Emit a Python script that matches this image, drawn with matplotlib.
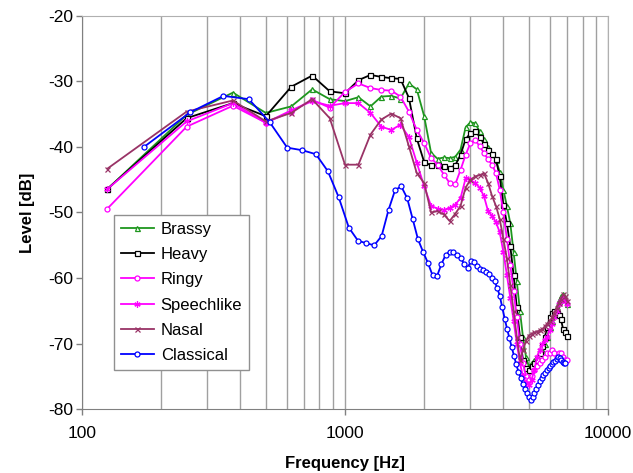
import numpy as np
import matplotlib.pyplot as plt

plt.rcParams['font.family'] = ['Liberation Sans', 'DejaVu Sans']
plt.rcParams['axes.unicode_minus'] = False

# band centre frequencies (125 Hz steps) for the voice-quality spectra
freq = [125, 250, 375, 500, 625, 750, 875, 1000, 1125, 1250, 1375, 1500,
        1625, 1750, 1875, 2000, 2125, 2250, 2375, 2500, 2625, 2750, 2875,
        3000, 3125, 3250, 3375, 3500, 3625, 3750, 3875, 4000, 4125, 4250,
        4375, 4500, 4625, 4750, 4875, 5000, 5125, 5250, 5375, 5500, 5625,
        5750, 5875, 6000, 6125, 6250, 6375, 6500, 6625, 6750, 6875, 7000]

brassy = [-46.4, -35.1, -31.7, -34.8, -33.8, -31.2, -32.7, -33.0, -32.4, -33.8,
          -32.3, -32.2, -32.6, -30.3, -31.2, -35.3, -40.9, -41.8, -41.6, -41.7,
          -41.5, -40.4, -37.0, -36.2, -36.4, -37.6, -38.8, -40.0, -41.0, -42.0,
          -43.8, -46.5, -49.0, -51.6, -56.0, -60.5, -65.0, -69.0, -72.0, -73.5,
          -73.0, -72.5, -72.0, -71.5, -71.0, -70.0, -69.0, -67.5, -66.5, -65.5,
          -64.5, -63.5, -62.8, -62.5, -63.0, -64.0]

heavy = [-46.4, -35.6, -33.3, -35.3, -30.8, -29.1, -31.5, -31.8, -29.8, -29.0,
         -29.3, -29.5, -29.6, -32.5, -38.7, -42.3, -42.8, -42.8, -42.9, -43.2,
         -42.8, -41.2, -38.8, -37.9, -37.6, -38.4, -39.5, -40.4, -41.0, -41.9,
         -44.5, -48.8, -51.6, -55.1, -59.5, -64.5, -69.0, -72.5, -73.8, -74.0,
         -73.5, -73.0, -72.5, -71.5, -70.4, -69.0, -67.5, -66.0, -65.3, -65.0,
         -65.3, -65.6, -66.3, -67.8, -68.2, -68.9]

ringy = [-49.4, -36.9, -33.7, -36.3, -34.6, -32.8, -34.0, -31.6, -30.3, -31.0,
         -31.3, -31.4, -32.3, -34.6, -37.4, -39.4, -41.7, -42.7, -44.2, -45.5,
         -45.7, -43.5, -41.2, -39.4, -38.9, -39.9, -40.9, -41.9, -42.7, -44.0,
         -46.5, -50.0, -54.0, -58.0, -62.0, -66.0, -70.0, -73.0, -75.0, -75.5,
         -75.0, -74.0, -73.5, -73.0, -72.5, -72.0, -71.5, -71.5, -71.0, -71.5,
         -72.0, -71.5, -71.5, -72.0, -72.5, -72.5]

speechlike = [-46.4, -36.1, -33.3, -36.3, -34.4, -33.0, -33.7, -33.3, -33.3, -34.8,
              -36.9, -37.4, -36.6, -38.5, -42.4, -46.0, -49.0, -49.4, -49.6, -49.3,
              -48.8, -47.8, -44.8, -45.0, -45.5, -46.2, -47.5, -49.8, -50.5, -51.5,
              -53.0, -56.0, -59.5, -63.0, -66.5, -70.0, -73.0, -75.0, -76.0, -76.3,
              -75.5, -74.0, -72.0, -71.0, -70.0, -69.5, -69.0, -68.0, -67.0, -66.0,
              -65.0, -64.0, -63.5, -63.0, -63.5, -64.0]

nasal = [-43.3, -34.6, -32.9, -36.1, -34.8, -32.7, -35.6, -42.7, -42.7, -38.1,
         -35.8, -34.9, -35.6, -39.9, -44.0, -45.5, -50.0, -49.8, -50.3, -51.3,
         -50.2, -49.0, -46.2, -45.0, -44.5, -44.3, -44.0, -45.5, -47.5, -49.0,
         -51.0, -54.0, -57.0, -61.0, -65.0, -69.0, -72.5, -71.0, -69.6, -68.8,
         -68.5, -68.3, -68.2, -68.0, -67.8, -67.4, -67.0, -66.6, -66.0, -65.3,
         -64.6, -63.8, -63.2, -62.5, -62.8, -63.5]

# classical singer spectrum on a finer FFT grid (~86 Hz bins)
freq_classical = [172, 258, 345, 431, 517, 603, 689, 775, 861, 947, 1034, 1120,
                  1206, 1292, 1378, 1464, 1550, 1636, 1723, 1809, 1895, 1981,
                  2067, 2153, 2239, 2325, 2412, 2498, 2584, 2670, 2756, 2842,
                  2928, 3015, 3101, 3187, 3273, 3359, 3445, 3531, 3617, 3704,
                  3790, 3876, 3962, 4048, 4134, 4220, 4307, 4393, 4479, 4565,
                  4651, 4737, 4823, 4909, 4996, 5082, 5168, 5254, 5340, 5426,
                  5512, 5599, 5685, 5771, 5857, 5943, 6029, 6115, 6201, 6287,
                  6374, 6460, 6546, 6632, 6718, 6804, 6890]

classical = [-40.0, -34.7, -32.2, -32.7, -36.2, -40.1, -40.5, -41.1, -43.7, -47.7,
             -52.3, -54.3, -54.7, -55.0, -53.6, -49.6, -46.6, -46.0, -47.8, -51.0,
             -54.1, -56.0, -57.7, -59.6, -59.7, -57.9, -56.5, -56.0, -56.1, -56.5,
             -57.0, -57.9, -58.4, -57.4, -57.6, -58.2, -58.7, -58.8, -59.1, -59.4,
             -60.0, -60.5, -61.5, -62.7, -64.5, -66.2, -67.8, -69.2, -70.6, -71.9,
             -73.2, -74.3, -75.2, -76.2, -76.9, -77.6, -78.2, -78.7, -78.2, -77.6,
             -76.9, -76.3, -75.7, -75.2, -74.8, -74.5, -74.1, -73.8, -73.5, -73.2,
             -72.9, -72.6, -72.3, -72.0, -72.2, -72.5, -72.8, -73.0, -73.0]

fig = plt.figure(figsize=(6.33, 4.73), dpi=100)
ax = fig.add_axes([0.1295, 0.1353, 0.831, 0.8309])

ms = 3.6
lw = 1.3
ax.plot(freq, brassy, color='#1e961e', lw=lw, marker='^', ms=ms,
        mfc='white', mec='#1e961e', mew=0.9, label='Brassy')
ax.plot(freq, heavy, color='black', lw=lw, marker='s', ms=ms,
        mfc='white', mec='black', mew=0.9, label='Heavy')
ax.plot(freq, ringy, color='#ff00ff', lw=lw, marker='o', ms=ms,
        mfc='white', mec='#ff00ff', mew=0.9, label='Ringy')
ax.plot(freq, speechlike, color='#ff00ff', lw=lw, marker=(6, 2, 0), ms=4.5,
        mec='#ff00ff', mew=0.9, label='Speechlike')
ax.plot(freq, nasal, color='#993366', lw=lw, marker='x', ms=ms,
        mec='#993366', mew=0.9, label='Nasal')
ax.plot(freq_classical, classical, color='#0000ff', lw=lw, marker='o', ms=ms,
        mfc='white', mec='#0000ff', mew=0.9, label='Classical')

ax.set_xscale('log')
ax.set_xlim(100, 10000)
ax.set_ylim(-80, -20)
ax.set_xticks([100, 1000, 10000])
ax.set_xticklabels(['100', '1000', '10000'])
ax.set_yticks(np.arange(-80, -19, 10))
ax.tick_params(which='major', direction='out', length=4, width=1,
               color='#808080', labelsize=12.5)
ax.tick_params(axis='x', which='major', pad=8)
ax.tick_params(axis='y', which='major', pad=2)
ax.tick_params(which='minor', length=0)
ax.xaxis.grid(True, which='both', color='#a0a0a0', lw=1)
ax.set_axisbelow(True)

for side in ['left', 'bottom']:
    ax.spines[side].set_color('#808080')
for side in ['top', 'right']:
    ax.spines[side].set_color('#b0b0b0')

ax.set_xlabel('Frequency [Hz]', fontsize=12, fontweight='bold', labelpad=11)
ax.set_ylabel('Level [dB]', fontsize=12, fontweight='bold', labelpad=10)

leg = ax.legend(loc='upper left', bbox_to_anchor=(0.061, 0.494),
                borderaxespad=0, fontsize=12, fancybox=False, framealpha=1,
                edgecolor='#909090', handlelength=2.0, labelspacing=0.62,
                borderpad=0.4, handletextpad=0.4)
leg.get_frame().set_linewidth(1)

fig.savefig('out.png', dpi=100)
